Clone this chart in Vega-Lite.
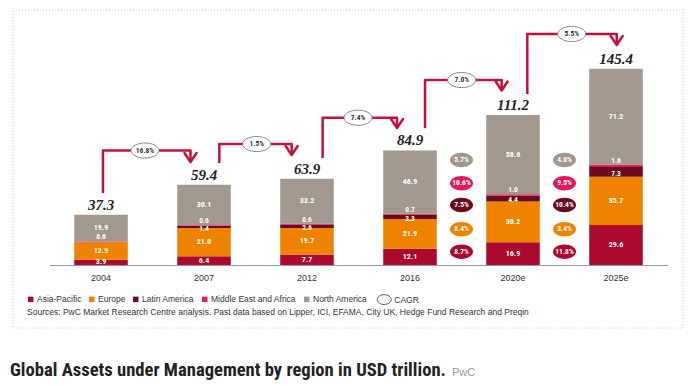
{
  "$schema": "https://vega.github.io/schema/vega-lite/v6.json",
  "width": 618,
  "height": 243,
  "autosize": "none",
  "padding": {"left": 49.5, "top": 22, "right": 32.5, "bottom": 121},
  "background": "white",
  "config": {"view": {"stroke": null}, "font": "Liberation Sans"},
  "datasets": {
    "bars": [
      {"year": "2004", "region": "Asia-Pacific", "value": 3.9},
      {"year": "2004", "region": "Europe", "value": 12.9},
      {"year": "2004", "region": "Middle East and Africa", "value": 0.6},
      {"year": "2004", "region": "North America", "value": 19.9},
      {"year": "2007", "region": "Asia-Pacific", "value": 6.4},
      {"year": "2007", "region": "Europe", "value": 21.0},
      {"year": "2007", "region": "Latin America", "value": 1.4},
      {"year": "2007", "region": "Middle East and Africa", "value": 0.6},
      {"year": "2007", "region": "North America", "value": 30.1},
      {"year": "2012", "region": "Asia-Pacific", "value": 7.7},
      {"year": "2012", "region": "Europe", "value": 19.7},
      {"year": "2012", "region": "Latin America", "value": 2.6},
      {"year": "2012", "region": "Middle East and Africa", "value": 0.6},
      {"year": "2012", "region": "North America", "value": 33.2},
      {"year": "2016", "region": "Asia-Pacific", "value": 12.1},
      {"year": "2016", "region": "Europe", "value": 21.9},
      {"year": "2016", "region": "Latin America", "value": 3.3},
      {"year": "2016", "region": "Middle East and Africa", "value": 0.7},
      {"year": "2016", "region": "North America", "value": 46.9},
      {"year": "2020e", "region": "Asia-Pacific", "value": 16.9},
      {"year": "2020e", "region": "Europe", "value": 30.2},
      {"year": "2020e", "region": "Latin America", "value": 4.4},
      {"year": "2020e", "region": "Middle East and Africa", "value": 1.0},
      {"year": "2020e", "region": "North America", "value": 58.6},
      {"year": "2025e", "region": "Asia-Pacific", "value": 29.6},
      {"year": "2025e", "region": "Europe", "value": 35.7},
      {"year": "2025e", "region": "Latin America", "value": 7.3},
      {"year": "2025e", "region": "Middle East and Africa", "value": 1.6},
      {"year": "2025e", "region": "North America", "value": 71.2}
    ],
    "totals": [
      {"year": "2004", "total": 37.3},
      {"year": "2007", "total": 59.4},
      {"year": "2012", "total": 63.9},
      {"year": "2016", "total": 84.9},
      {"year": "2020e", "total": 111.2},
      {"year": "2025e", "total": 145.4}
    ],
    "links": [
      {"c": 1, "s": 1, "px": 0.019, "py": 53.3}, {"c": 1, "s": 2, "px": 0.019, "py": 84.8}, {"c": 1, "s": 3, "px": 0.869, "py": 84.8}, {"c": 1, "s": 4, "px": 0.869, "py": 76.3},
      {"c": 2, "s": 1, "px": 1.149, "py": 75.6}, {"c": 2, "s": 2, "px": 1.149, "py": 89.6}, {"c": 2, "s": 3, "px": 1.851, "py": 89.6}, {"c": 2, "s": 4, "px": 1.851, "py": 81.5},
      {"c": 3, "s": 1, "px": 2.152, "py": 79.3}, {"c": 3, "s": 2, "px": 2.152, "py": 109.1}, {"c": 3, "s": 3, "px": 2.874, "py": 109.1}, {"c": 3, "s": 4, "px": 2.874, "py": 101.5},
      {"c": 4, "s": 1, "px": 3.146, "py": 101.3}, {"c": 4, "s": 2, "px": 3.146, "py": 137}, {"c": 4, "s": 3, "px": 3.89, "py": 137}, {"c": 4, "s": 4, "px": 3.89, "py": 129.3},
      {"c": 5, "s": 1, "px": 4.139, "py": 126.7}, {"c": 5, "s": 2, "px": 4.139, "py": 171.1}, {"c": 5, "s": 3, "px": 5.007, "py": 171.1}, {"c": 5, "s": 4, "px": 5.007, "py": 163}
    ],
    "linkLabels": [
      {"px": 0.427, "py": 84.8, "label": "16.8%"},
      {"px": 1.512, "py": 89.6, "label": "1.5%"},
      {"px": 2.495, "py": 109.1, "label": "7.4%"},
      {"px": 3.502, "py": 137, "label": "7.0%"},
      {"px": 4.57, "py": 171.1, "label": "5.5%"}
    ],
    "cagr": [
      {"px": 3.5, "region": "North America", "py": 77.8, "label": "5.7%"},
      {"px": 3.5, "region": "Middle East and Africa", "py": 60.5, "label": "10.6%"},
      {"px": 3.5, "region": "Latin America", "py": 44.4, "label": "7.5%"},
      {"px": 3.5, "region": "Europe", "py": 26.4, "label": "8.4%"},
      {"px": 3.5, "region": "Asia-Pacific", "py": 9.9, "label": "8.7%"},
      {"px": 4.5, "region": "North America", "py": 77.8, "label": "4.0%"},
      {"px": 4.5, "region": "Middle East and Africa", "py": 60.5, "label": "9.5%"},
      {"px": 4.5, "region": "Latin America", "py": 44.4, "label": "10.4%"},
      {"px": 4.5, "region": "Europe", "py": 26.4, "label": "3.4%"},
      {"px": 4.5, "region": "Asia-Pacific", "py": 9.9, "label": "11.8%"}
    ]
  },
  "layer": [
    {
      "layer": [
        {
          "data": {"name": "bars"},
          "mark": {"type": "bar"},
          "encoding": {
            "x": {"field": "year", "type": "nominal", "scale": {"paddingInner": 0.48, "paddingOuter": 0.24},
              "axis": {"title": null, "labelAngle": 0, "ticks": false, "domain": true, "domainColor": "#9a9a9a", "labelFontSize": 9, "labelColor": "#333", "labelPadding": 8, "labelFont": "Liberation Sans"}},
            "y": {"field": "value", "type": "quantitative", "stack": "zero", "scale": {"domain": [0, 180], "nice": false},
              "axis": {"title": null, "values": [0, 20, 40, 60, 80, 100, 120, 140, 160], "domain": false, "ticks": false, "grid": false, "labelFontSize": 9, "labelColor": "#333", "labelPadding": 7, "labelFont": "Liberation Sans"}},
            "color": {"field": "region", "type": "nominal",
              "scale": {"domain": ["Asia-Pacific", "Europe", "Latin America", "Middle East and Africa", "North America"], "range": ["#ab0a2e", "#ef8300", "#6a0c1d", "#e4185c", "#a3988d"]},
              "legend": {"title": null, "orient": "none", "legendX": -23, "legendY": 273, "direction": "horizontal", "symbolType": "square", "symbolSize": 30, "symbolStrokeWidth": 0, "labelFontSize": 8.5, "labelColor": "#333", "labelFont": "Liberation Sans", "labelOffset": 2, "columnPadding": 6, "padding": 0}},
            "order": {"field": "region", "sort": "ascending"}
          }
        },
        {
          "data": {"name": "bars"},
          "transform": [
            {"stack": "value", "groupby": ["year"], "sort": [{"field": "region", "order": "ascending"}], "as": ["v0", "v1"]},
            {"calculate": "(datum.v0 + datum.v1) / 2", "as": "mid"},
            {"filter": "datum.region == 'Asia-Pacific' || datum.region == 'Europe' || datum.region == 'North America'"}
          ],
          "mark": {"type": "text", "color": "white", "fontWeight": "bold", "fontSize": 8, "font": "Roboto Condensed, Roboto", "baseline": "middle"},
          "encoding": {
            "x": {"field": "year", "type": "nominal"},
            "y": {"field": "mid", "type": "quantitative", "scale": {"domain": [0, 180], "nice": false}},
            "text": {"field": "value", "type": "quantitative", "format": ".1f"}
          }
        },
        {
          "data": {"name": "bars"},
          "transform": [
            {"stack": "value", "groupby": ["year"], "sort": [{"field": "region", "order": "ascending"}], "as": ["v0", "v1"]},
            {"calculate": "(datum.v0 + datum.v1) / 2", "as": "mid"},
            {"filter": "datum.region == 'Latin America'"}
          ],
          "mark": {"type": "text", "color": "white", "fontWeight": "bold", "fontSize": 7.5, "font": "Roboto Condensed, Roboto", "baseline": "middle", "dy": 2},
          "encoding": {
            "x": {"field": "year", "type": "nominal"},
            "y": {"field": "mid", "type": "quantitative", "scale": {"domain": [0, 180], "nice": false}},
            "text": {"field": "value", "type": "quantitative", "format": ".1f"}
          }
        },
        {
          "data": {"name": "bars"},
          "transform": [
            {"stack": "value", "groupby": ["year"], "sort": [{"field": "region", "order": "ascending"}], "as": ["v0", "v1"]},
            {"calculate": "(datum.v0 + datum.v1) / 2", "as": "mid"},
            {"filter": "datum.region == 'Middle East and Africa'"}
          ],
          "mark": {"type": "text", "color": "white", "fontWeight": "bold", "fontSize": 7.5, "font": "Roboto Condensed, Roboto", "baseline": "middle", "dy": -4.5},
          "encoding": {
            "x": {"field": "year", "type": "nominal"},
            "y": {"field": "mid", "type": "quantitative", "scale": {"domain": [0, 180], "nice": false}},
            "text": {"field": "value", "type": "quantitative", "format": ".1f"}
          }
        },
        {
          "data": {"name": "totals"},
          "mark": {"type": "text", "color": "#222", "fontWeight": "bold", "fontStyle": "italic", "fontSize": 15, "font": "Liberation Serif", "baseline": "middle", "dy": -10},
          "encoding": {
            "x": {"field": "year", "type": "nominal"},
            "y": {"field": "total", "type": "quantitative", "scale": {"domain": [0, 180], "nice": false}},
            "text": {"field": "total", "type": "quantitative", "format": ".1f"}
          }
        }
      ]
    },
    {
      "layer": [
        {
          "data": {"values": [{}]},
          "mark": {"type": "rect", "filled": false, "stroke": "#c4c4c4", "strokeDash": [1, 2], "strokeWidth": 1},
          "encoding": {
            "x": {"datum": -0.854, "type": "quantitative", "scale": {"domain": [-0.5, 5.5], "nice": false, "zero": false}, "axis": null},
            "x2": {"datum": 5.65},
            "y": {"datum": 188.9, "type": "quantitative", "scale": {"domain": [0, 180], "nice": false}, "axis": null},
            "y2": {"datum": -46.7}
          }
        },
        {
          "data": {"name": "links"},
          "mark": {"type": "line", "color": "#c3123b", "strokeWidth": 2.5, "strokeJoin": "round"},
          "encoding": {
            "x": {"field": "px", "type": "quantitative", "scale": {"domain": [-0.5, 5.5], "nice": false, "zero": false}, "axis": null},
            "y": {"field": "py", "type": "quantitative", "scale": {"domain": [0, 180], "nice": false}, "axis": null},
            "detail": {"field": "c", "type": "nominal"},
            "order": {"field": "s", "type": "quantitative"}
          }
        },
        {
          "data": {"name": "links"},
          "transform": [{"filter": "datum.s == 4"}],
          "mark": {"type": "point", "shape": "M -1 -1.5 L 0 0 L 1 -1.5", "filled": false, "stroke": "#c3123b", "strokeWidth": 2.5, "strokeCap": "round", "strokeJoin": "round", "size": 144, "opacity": 1},
          "encoding": {
            "x": {"field": "px", "type": "quantitative", "scale": {"domain": [-0.5, 5.5], "nice": false, "zero": false}, "axis": null},
            "y": {"field": "py", "type": "quantitative", "scale": {"domain": [0, 180], "nice": false}, "axis": null}
          }
        },
        {
          "data": {"name": "linkLabels"},
          "mark": {"type": "point", "shape": "M -1 0 A 1 0.54 0 1 1 1 0 A 1 0.54 0 1 1 -1 0 Z", "filled": true, "fill": "white", "stroke": "#8a8a8a", "strokeWidth": 1, "size": 784, "opacity": 1},
          "encoding": {
            "x": {"field": "px", "type": "quantitative", "scale": {"domain": [-0.5, 5.5], "nice": false, "zero": false}, "axis": null},
            "y": {"field": "py", "type": "quantitative", "scale": {"domain": [0, 180], "nice": false}, "axis": null}
          }
        },
        {
          "data": {"name": "linkLabels"},
          "mark": {"type": "text", "color": "#333", "fontWeight": "bold", "fontSize": 7.5, "font": "Roboto Condensed, Roboto", "baseline": "middle"},
          "encoding": {
            "x": {"field": "px", "type": "quantitative", "scale": {"domain": [-0.5, 5.5], "nice": false, "zero": false}, "axis": null},
            "y": {"field": "py", "type": "quantitative", "scale": {"domain": [0, 180], "nice": false}, "axis": null},
            "text": {"field": "label", "type": "nominal"}
          }
        },
        {
          "data": {"name": "cagr"},
          "mark": {"type": "point", "shape": "M -1 0 A 1 0.63 0 1 1 1 0 A 1 0.63 0 1 1 -1 0 Z", "filled": true, "size": 529, "opacity": 1},
          "encoding": {
            "x": {"field": "px", "type": "quantitative", "scale": {"domain": [-0.5, 5.5], "nice": false, "zero": false}, "axis": null},
            "y": {"field": "py", "type": "quantitative", "scale": {"domain": [0, 180], "nice": false}, "axis": null},
            "color": {"field": "region", "type": "nominal", "legend": null}
          }
        },
        {
          "data": {"name": "cagr"},
          "mark": {"type": "text", "color": "white", "fontWeight": "bold", "fontSize": 7.5, "font": "Roboto Condensed, Roboto", "baseline": "middle"},
          "encoding": {
            "x": {"field": "px", "type": "quantitative", "scale": {"domain": [-0.5, 5.5], "nice": false, "zero": false}, "axis": null},
            "y": {"field": "py", "type": "quantitative", "scale": {"domain": [0, 180], "nice": false}, "axis": null},
            "text": {"field": "label", "type": "nominal"}
          }
        },
        {
          "data": {"values": [{}]},
          "mark": {"type": "point", "shape": "M -1 0 A 1 0.7 0 1 1 1 0 A 1 0.7 0 1 1 -1 0 Z", "filled": false, "stroke": "#555", "strokeWidth": 1, "size": 196, "opacity": 1},
          "encoding": {
            "x": {"datum": 2.75, "type": "quantitative", "scale": {"domain": [-0.5, 5.5], "nice": false, "zero": false}, "axis": null},
            "y": {"datum": -25.6, "type": "quantitative", "scale": {"domain": [0, 180], "nice": false}, "axis": null}
          }
        },
        {
          "data": {"values": [{}]},
          "mark": {"type": "text", "text": "CAGR", "align": "left", "baseline": "alphabetic", "fontSize": 8.5, "color": "#333", "font": "Liberation Sans"},
          "encoding": {
            "x": {"datum": 2.847, "type": "quantitative", "scale": {"domain": [-0.5, 5.5], "nice": false, "zero": false}, "axis": null},
            "y": {"datum": -28.2, "type": "quantitative", "scale": {"domain": [0, 180], "nice": false}, "axis": null}
          }
        },
        {
          "data": {"values": [{}]},
          "mark": {"type": "text", "text": "Sources: PwC Market Research Centre analysis. Past data  based on Lipper, ICI, EFAMA, City UK, Hedge Fund Research and Preqin", "align": "left", "baseline": "alphabetic", "fontSize": 8.5, "color": "#333", "font": "Liberation Sans"},
          "encoding": {
            "x": {"datum": -0.718, "type": "quantitative", "scale": {"domain": [-0.5, 5.5], "nice": false, "zero": false}, "axis": null},
            "y": {"datum": -37.0, "type": "quantitative", "scale": {"domain": [0, 180], "nice": false}, "axis": null}
          }
        },
        {
          "data": {"values": [{}]},
          "mark": {"type": "text", "text": "Global Assets under Management by region in USD trillion.", "align": "left", "baseline": "alphabetic", "fontSize": 18.6, "fontWeight": "bold", "color": "#222", "font": "Roboto Condensed, Roboto"},
          "encoding": {
            "x": {"datum": -0.884, "type": "quantitative", "scale": {"domain": [-0.5, 5.5], "nice": false, "zero": false}, "axis": null},
            "y": {"datum": -82.2, "type": "quantitative", "scale": {"domain": [0, 180], "nice": false}, "axis": null}
          }
        },
        {
          "data": {"values": [{}]},
          "mark": {"type": "text", "text": "PwC", "align": "left", "baseline": "alphabetic", "fontSize": 11, "color": "#9a9a9a", "font": "Liberation Sans"},
          "encoding": {
            "x": {"datum": 3.408, "type": "quantitative", "scale": {"domain": [-0.5, 5.5], "nice": false, "zero": false}, "axis": null},
            "y": {"datum": -82.2, "type": "quantitative", "scale": {"domain": [0, 180], "nice": false}, "axis": null}
          }
        }
      ]
    }
  ],
  "resolve": {"scale": {"x": "independent"}, "axis": {"x": "independent"}}
}
